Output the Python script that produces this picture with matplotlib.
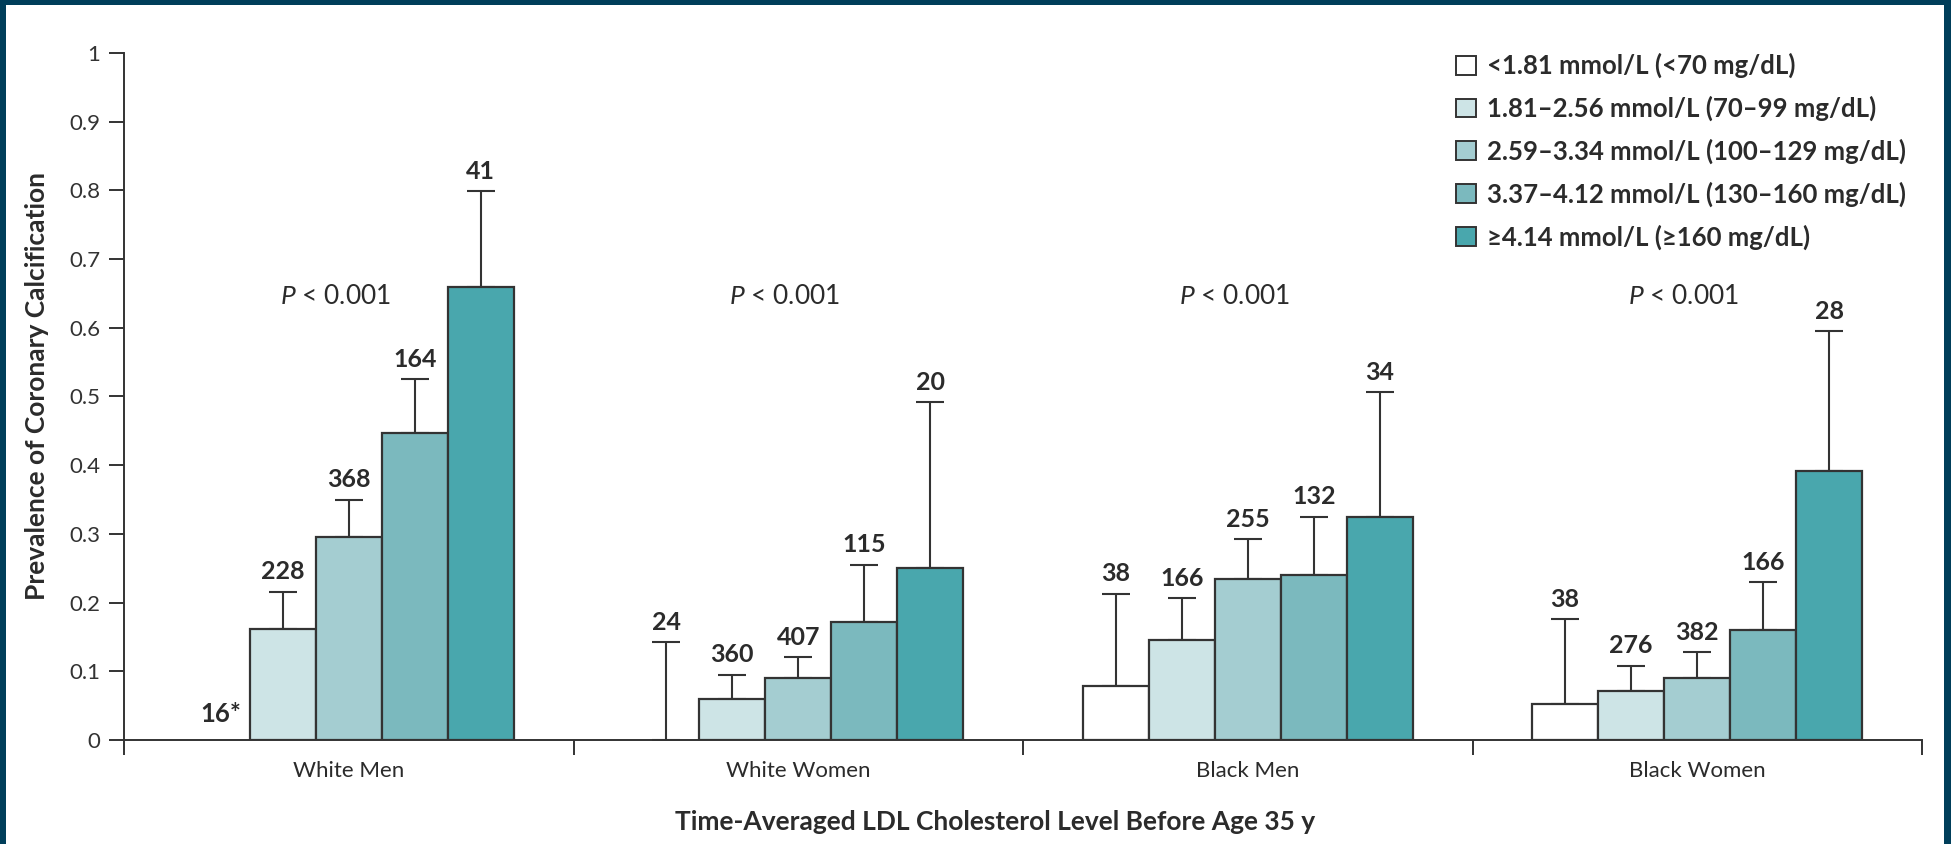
import matplotlib
matplotlib.use("Agg")
import matplotlib.pyplot as plt
from matplotlib.patches import Rectangle, Patch
import numpy as np

plt.rcParams['font.family'] = ['Lato', 'DejaVu Sans']
plt.rcParams['mathtext.fontset'] = 'custom'
plt.rcParams['mathtext.it'] = 'Lato:italic'
plt.rcParams['mathtext.rm'] = 'Lato'

groups = ['White Men', 'White Women', 'Black Men', 'Black Women']
levels = ['<1.81 mmol/L (<70 mg/dL)',
          '1.81–2.56 mmol/L (70–99 mg/dL)',
          '2.59–3.34 mmol/L (100–129 mg/dL)',
          '3.37–4.12 mmol/L (130–160 mg/dL)',
          '≥4.14 mmol/L (≥160 mg/dL)']
colors = ['#ffffff', '#cde4e6', '#a4cdd1', '#7bb9be', '#49a7ad']

# prevalence per group (rows) and LDL level (cols); None = no bar
prev = [[None, 0.161, 0.295, 0.447, 0.659],
        [0.0, 0.060, 0.090, 0.172, 0.250],
        [0.078, 0.145, 0.234, 0.240, 0.325],
        [0.052, 0.072, 0.090, 0.160, 0.392]]
upper = [[None, 0.216, 0.350, 0.525, 0.799],
         [0.142, 0.095, 0.121, 0.255, 0.492],
         [0.213, 0.206, 0.292, 0.325, 0.506],
         [0.176, 0.108, 0.128, 0.230, 0.595]]
counts = [['16*', '228', '368', '164', '41'],
          ['24', '360', '407', '115', '20'],
          ['38', '166', '255', '132', '34'],
          ['38', '276', '382', '166', '28']]
p_text = r'$\mathit{P}$ < 0.001'

ink = '#2b2b2b'
fig = plt.figure(figsize=(19.51, 8.44), dpi=100, facecolor='#003e5a')
fig.patches.append(Rectangle((6 / 1951, 0), (1944 - 6) / 1951, (844 - 5) / 844,
                             transform=fig.transFigure, facecolor='white',
                             edgecolor='none', zorder=-10))
ax = fig.add_axes([124 / 1951, (844 - 740) / 844, (1922 - 124) / 1951, (740 - 53) / 844])
ax.set_facecolor('none')
ax.set_zorder(5)

w = 0.147
for g in range(len(groups)):
    for k in range(len(levels)):
        x = g + (k - 2) * w
        v = prev[g][k]
        if v is None:
            ax.text(x + 0.01, 0.02, counts[g][k], ha='center', va='bottom',
                    fontsize=18.5, fontweight='bold', color=ink)
            continue
        if v > 0:
            ax.bar(x, v, width=w, color=colors[k], edgecolor='#333333',
                   linewidth=1.6, zorder=2)
        ax.errorbar(x, v, yerr=[[0], [upper[g][k] - v]], fmt='none',
                    ecolor='#333333', elinewidth=1.5, capsize=10, capthick=1.5,
                    zorder=1)
        ax.annotate(counts[g][k], (x, upper[g][k]), xytext=(0, 6),
                    textcoords='offset points', ha='center', va='bottom',
                    fontsize=18, fontweight='bold', color=ink)
    ax.text(g - 0.03, 0.645, p_text, ha='center', va='center',
            fontsize=19, color=ink)

ax.set_xlim(-0.5, 3.5)
ax.set_ylim(0, 1)
ax.set_yticks(np.arange(0, 1.01, 0.1))
ax.set_yticklabels(['0'] + ['%.1f' % t for t in np.arange(0.1, 0.95, 0.1)] + ['1'])
ax.set_xticks([-0.5, 0.5, 1.5, 2.5, 3.5])
ax.set_xticklabels([])
ax.set_xticks(range(4), minor=True)
ax.set_xticklabels(groups, minor=True)
ax.tick_params(axis='x', which='major', length=11, width=1.4, color='#333333')
ax.tick_params(axis='x', which='minor', length=0, pad=15, labelsize=16, labelcolor=ink)
ax.tick_params(axis='y', length=11, width=1.4, color='#333333', pad=6,
               labelsize=16, labelcolor='#333333')
for s in ['top', 'right']:
    ax.spines[s].set_visible(False)
for s in ['left', 'bottom']:
    ax.spines[s].set_linewidth(1.4)
    ax.spines[s].set_color('#333333')

handles = [Patch(facecolor=c, edgecolor='#333333', linewidth=1.4) for c in colors]
ax.legend(handles, levels, loc='upper left', bbox_to_anchor=(0.741, 1.0),
          frameon=False, handlelength=0.75, handleheight=0.75,
          handletextpad=0.45, labelspacing=0.68, borderpad=0, borderaxespad=0,
          prop={'weight': 'bold', 'size': 18.5}, labelcolor=ink)

fig.text(995 / 1951, 1 - 822 / 844, 'Time-Averaged LDL Cholesterol Level Before Age 35 y',
         ha='center', va='center', fontsize=19, fontweight='bold', color=ink)
fig.text(37 / 1951, 1 - 386 / 844, 'Prevalence of Coronary Calcification',
         ha='center', va='center', rotation=90, fontsize=19, fontweight='bold', color=ink)

fig.savefig('out.png', dpi=100, facecolor=fig.get_facecolor())
